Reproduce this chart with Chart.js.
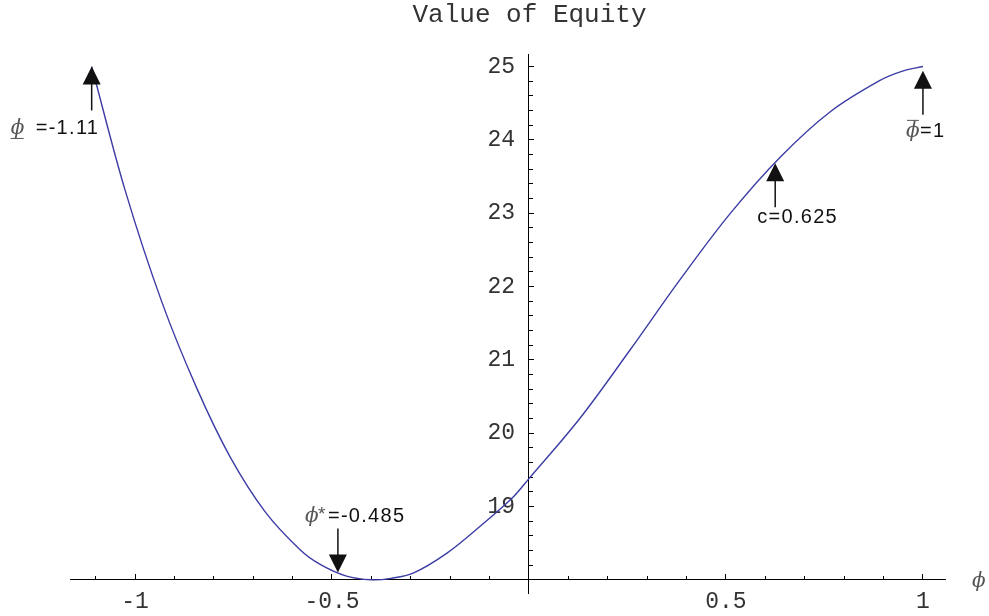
<!DOCTYPE html>
<html>
<head>
<meta charset="utf-8">
<title>Value of Equity</title>
<script src="https://cdn.jsdelivr.net/npm/chart.js@4.4.1/dist/chart.umd.min.js"></script>
<style>
  html, body { margin: 0; padding: 0; background: #fff; }
  #chart { display: block; }
</style>
</head>
<body>
<canvas id="chart" width="989" height="616"></canvas>
<script>
// curve: phi on x, value of equity on y
var phiValues = [-1.11, -1.025, -0.932, -0.843, -0.759, -0.670, -0.581, -0.530, -0.463, -0.40, -0.35,
  -0.294, -0.209, -0.124, -0.040, 0.0, 0.129, 0.256, 0.383, 0.510, 0.637, 0.764, 0.891, 0.95, 1.0];
var equityValues = [25.0, 23.31, 21.79, 20.61, 19.68, 18.93, 18.41, 18.21, 18.05, 18.0, 18.02,
  18.09, 18.36, 18.73, 19.13, 19.38, 20.20, 21.13, 22.09, 22.99, 23.76, 24.38, 24.81, 24.94, 25.0];

// axis ticks
var xTicks = [-1, -0.5, 0.5, 1];
var xTickLabels = ["-1", "-0.5", "0.5", "1"];
var yTicks = [19, 20, 21, 22, 23, 24, 25];
var yTickLabels = ["19", "20", "21", "22", "23", "24", "25"];

// arrows: where they point and what they say
var markerX = [-1.11, -0.485, 0.625, 1];
var markerY = [25.0, 18.1, 23.68, 24.94];
var markerText = ["=-1.11", "=-0.485", "c=0.625", "=1"];

var xMin = -1.165, xMax = 1.056;
var yMin = 17.82, yMax = 25.17;

function minorTicks(from, to, step) {
  // integer steps so the values stay clean
  var out = [];
  for (var i = Math.ceil(from / step); i * step <= to + 1e-9; i++) {
    out.push(Math.round(i * step * 100) / 100);
  }
  return out;
}
var xMinorTicks = minorTicks(xMin, xMax, 0.1);
var yMinorTicks = minorTicks(18, yMax, 0.2);

function setTicks(values) {
  return function (axis) {
    axis.ticks = values.map(function (v) { return { value: v }; });
  };
}

var monoFont = { family: "'Liberation Mono', 'Courier New', monospace", size: 23 };
var phiFont = "italic 20px 'DejaVu Serif', serif";
var labelFont = "20px 'Liberation Sans', Arial, sans-serif";

function drawArrow(ctx, x, y, down) {
  var d = down ? -1 : 1;
  ctx.beginPath();
  ctx.moveTo(x, y);
  ctx.lineTo(x - 9, y + d * 18);
  ctx.lineTo(x + 9, y + d * 18);
  ctx.closePath();
  ctx.fill();
  ctx.beginPath();
  ctx.moveTo(x, y + d * 16);
  ctx.lineTo(x, y + d * 44);
  ctx.stroke();
}

var annotations = {
  id: "annotations",
  afterDraw: function (chart) {
    var ctx = chart.ctx;
    var xs = chart.scales.x, ys = chart.scales.y;
    ctx.save();

    // title
    ctx.font = "26px 'Liberation Mono', 'Courier New', monospace";
    ctx.fillStyle = "#333";
    ctx.textAlign = "center";
    ctx.textBaseline = "alphabetic";
    ctx.fillText("Value of Equity", (chart.chartArea.left + chart.width) / 2, 22);

    // axis label
    ctx.textAlign = "left";
    ctx.font = phiFont;
    ctx.fillStyle = "#555";
    ctx.fillText("\u03d5", 972, 587);

    ctx.fillStyle = "#111";
    ctx.strokeStyle = "#111";
    ctx.lineWidth = 1.5;
    for (var i = 0; i < markerX.length; i++) {
      var tx = xs.getPixelForValue(markerX[i]);
      var ty = ys.getPixelForValue(markerY[i]);
      drawArrow(ctx, tx, ty, i === 1);
    }

    ctx.letterSpacing = "1.3px";
    ctx.lineWidth = 1;

    // lower bound
    var tx0 = xs.getPixelForValue(markerX[0]), ty0 = ys.getPixelForValue(markerY[0]);
    ctx.font = phiFont; ctx.fillStyle = "#555"; ctx.strokeStyle = "#555";
    ctx.fillText("\u03d5", tx0 - 81, ty0 + 68);
    ctx.beginPath(); ctx.moveTo(tx0 - 81, ty0 + 72); ctx.lineTo(tx0 - 68, ty0 + 72); ctx.stroke();
    ctx.font = labelFont; ctx.fillStyle = "#111";
    ctx.fillText(markerText[0], tx0 - 56, ty0 + 68);

    // optimum
    var tx1 = xs.getPixelForValue(markerX[1]), ty1 = ys.getPixelForValue(markerY[1]);
    ctx.font = phiFont; ctx.fillStyle = "#555";
    ctx.fillText("\u03d5", tx1 - 33, ty1 - 50);
    ctx.font = "19px 'Liberation Sans', Arial, sans-serif";
    ctx.fillText("*", tx1 - 20, ty1 - 52);
    ctx.font = labelFont; ctx.fillStyle = "#111";
    ctx.fillText(markerText[1], tx1 - 10, ty1 - 50);

    // c
    var tx2 = xs.getPixelForValue(markerX[2]), ty2 = ys.getPixelForValue(markerY[2]);
    ctx.fillText(markerText[2], tx2 - 18, ty2 + 60);

    // upper bound
    var tx3 = xs.getPixelForValue(markerX[3]), ty3 = ys.getPixelForValue(markerY[3]);
    ctx.font = phiFont; ctx.fillStyle = "#555"; ctx.strokeStyle = "#555";
    ctx.fillText("\u03d5", tx3 - 17, ty3 + 66);
    ctx.beginPath(); ctx.moveTo(tx3 - 16, ty3 + 49.5); ctx.lineTo(tx3 - 4, ty3 + 49.5); ctx.stroke();
    ctx.font = labelFont; ctx.fillStyle = "#111";
    ctx.fillText(markerText[3], tx3 - 3, ty3 + 66);

    ctx.restore();
  }
};

var ctx = document.getElementById("chart").getContext("2d");
var chart = new Chart(ctx, {
  type: "line",
  data: {
    datasets: [{
      data: phiValues.map(function (p, i) { return { x: p, y: equityValues[i] }; }),
      xAxisID: "x",
      yAxisID: "y",
      borderColor: "#3c3ca5",
      borderWidth: 1.4,
      pointRadius: 0,
      fill: false,
      tension: 0.35
    }]
  },
  options: {
    responsive: false,
    animation: false,
    layout: { padding: { left: 70, right: 44, top: 54, bottom: 23 } },
    plugins: {
      legend: { display: false },
      tooltip: { enabled: false },
      title: { display: false }
    },
    scales: {
      x: {
        type: "linear",
        position: { y: 18 },
        min: xMin, max: xMax,
        afterBuildTicks: setTicks(xTicks),
        border: { display: true, color: "#000", width: 1 },
        grid: { drawOnChartArea: false, drawTicks: true, tickLength: -6, color: "#000" },
        ticks: {
          padding: 14, maxRotation: 0, autoSkip: false, color: "#333", font: monoFont,
          callback: function (v, i) { return xTickLabels[i]; }
        }
      },
      xMinor: {
        type: "linear",
        axis: "x",
        position: { y: 18 },
        min: xMin, max: xMax,
        afterBuildTicks: setTicks(xMinorTicks),
        border: { display: false },
        grid: { drawOnChartArea: false, drawTicks: true, tickLength: -4, color: "#000" },
        ticks: { display: false }
      },
      y: {
        type: "linear",
        position: { x: 0 },
        min: yMin, max: yMax,
        afterBuildTicks: setTicks(yTicks),
        border: { display: true, color: "#000", width: 1 },
        grid: { drawOnChartArea: false, drawTicks: true, tickLength: -6, color: "#000" },
        ticks: {
          autoSkip: false, color: "#333", font: monoFont,
          // labels sit flush on a centred axis, the trailing space keeps them off it
          callback: function (v, i) { return yTickLabels[i] + " "; }
        }
      },
      yMinor: {
        type: "linear",
        axis: "y",
        position: { x: 0 },
        min: yMin, max: yMax,
        afterBuildTicks: setTicks(yMinorTicks),
        border: { display: false },
        grid: { drawOnChartArea: false, drawTicks: true, tickLength: -4, color: "#000" },
        ticks: { display: false }
      }
    }
  },
  plugins: [annotations]
});
</script>
</body>
</html>
